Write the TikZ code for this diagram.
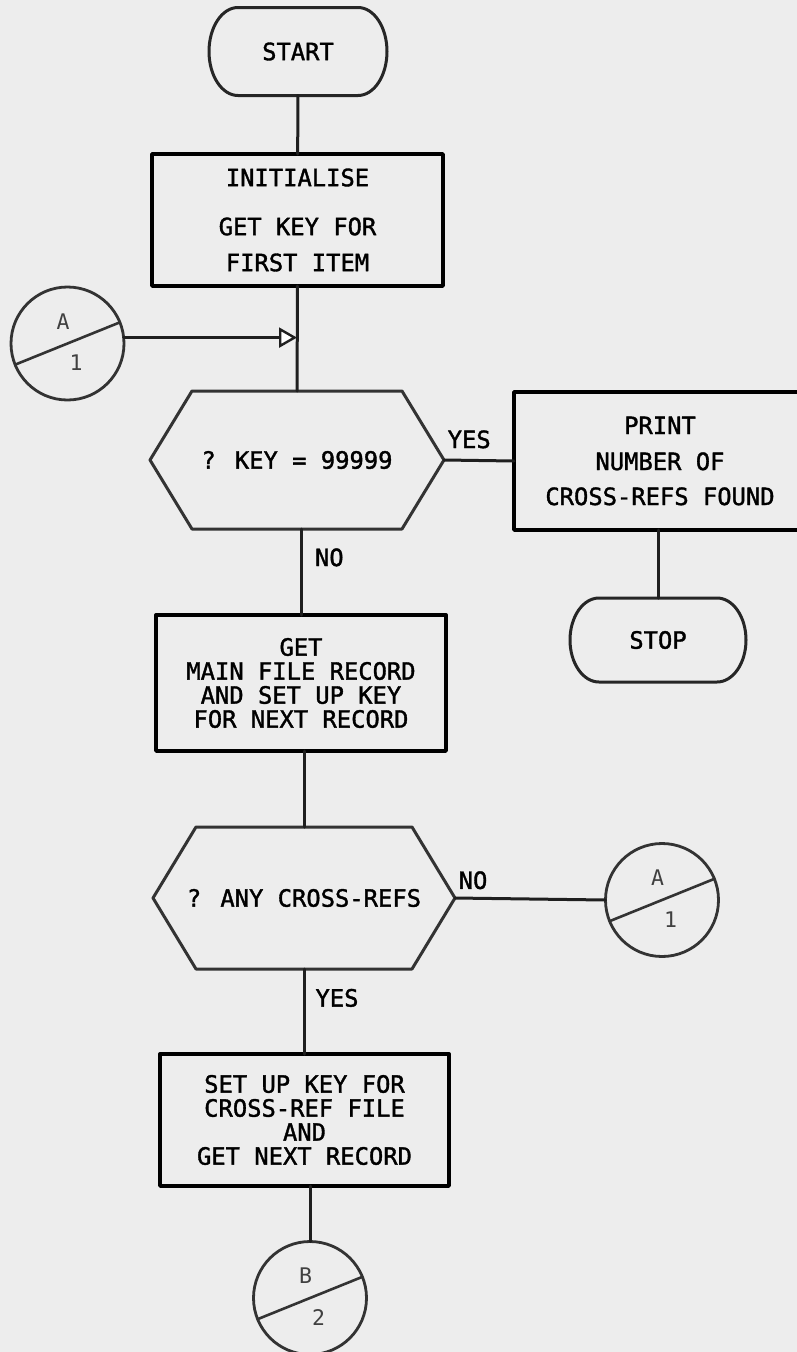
\documentclass[tikz,border=0pt]{standalone}
\usepackage{fontspec}
\newfontfamily\flowfont{DejaVu Sans Mono}[FakeBold=1.5]
\newfontfamily\jointfont{DejaVu Sans Mono}
\usetikzlibrary{arrows.meta}
\begin{document}
\begin{tikzpicture}[x=1pt, y=-1pt, line join=round, line cap=round,
	every node/.style={font=\flowfont\fontsize{23.8}{24}\selectfont, align=center, outer sep=0pt},
	process/.style={draw=black, line width=3.4pt, inner sep=0pt},
	terminal/.style={inner sep=0pt, minimum width=#1, minimum height=88pt},
	decision/.style={inner sep=0pt, minimum height=#1},
	hexline/.style={draw=black!80, line width=3pt},
	joint/.style={circle, draw=black!80, line width=2.8pt, minimum size=113pt, inner sep=0pt},
	jtext/.style={font=\jointfont\fontsize{21.5}{21}\selectfont, text=black!75, inner sep=0pt},
	flow/.style={draw=black!88, line width=3pt},
	lbl/.style={inner sep=2pt}]
	\clip (0,0) rectangle (797,1352);
	\fill[black!7] (0,0) rectangle (797,1352);
	% boxes
	\node[terminal=120pt] (start) at (298,51.5) {START};
	\node[process, minimum width=291pt, minimum height=132pt] (init) at (297.5,220)
		{INITIALISE\\[25pt]GET KEY FOR\\[12pt]FIRST ITEM};
	\node[decision=138pt, minimum width=294pt] (key) at (297,460) {? KEY = 99999};
	\node[process, minimum width=292pt, minimum height=138pt] (print) at (660,461)
		{PRINT\\[12pt]NUMBER OF\\[11pt]CROSS-REFS FOUND};
	\node[terminal=118pt, minimum height=84pt] (stop) at (658,640) {STOP};
	\node[process, minimum width=290pt, minimum height=136pt] (getrec) at (301,683)
		{GET\\MAIN FILE RECORD\\AND SET UP KEY\\FOR NEXT RECORD};
	\node[decision=142pt, minimum width=302pt] (anyref) at (304,898) {? ANY CROSS-REFS};
	\node[process, minimum width=289pt, minimum height=132pt] (setkey) at (304.5,1120)
		{SET UP KEY FOR\\CROSS-REF FILE\\AND\\GET NEXT RECORD};
	\node[joint] (joinA) at (67.5,343.5) {};
	\node[joint] (joinAr) at (662,900) {};
	\node[joint] (joinB) at (310,1298) {};
	% terminal outlines
	\foreach \t/\r in {start/44,stop/42}
	\draw[hexline, draw=black!85] (\t.north west) -- (\t.north east)
		arc[start angle=90, end angle=-90, x radius=29pt, y radius=\r pt] -- (\t.south west)
		arc[start angle=270, end angle=90, x radius=29pt, y radius=\r pt] -- cycle;
	% decision outlines
	\foreach \d/\w in {key/42,anyref/43}
	\draw[hexline] ([xshift=\w]\d.north west) -- ([xshift=-\w]\d.north east) -- (\d.east)
		-- ([xshift=-\w]\d.south east) -- ([xshift=\w]\d.south west) -- (\d.west) -- cycle;
	% connectors
	\foreach \c/\t/\b in {joinA/A/1,joinAr/A/1,joinB/B/2}{
		\draw[hexline, line width=2.6pt] (\c.202) -- (\c.22);
		\node[jtext] (\c-top) at ([shift={(-4.5,-22)}]\c.center) {\t};
		\node[jtext] (\c-bot) at ([shift={(8.5,19.5)}]\c.center) {\b};
	}
	% flow lines
	\draw[flow] (start) -- (init);
	\draw[flow] (init) -- (key);
	\draw[flow, -{Triangle[fill=white, length=18pt, width=20pt, line width=2.4pt]}]
		(joinA.6) -- (joinA.6 -| key.north);
	\draw[flow] (key.east) -- node[lbl, above=10pt, pos=.36] (yes1) {YES} (print.west);
	\draw[flow] (print.south -| stop.north) -- (stop.north);
	\draw[flow] (getrec.north |- key.south) -- node[lbl, right=12pt, pos=.33] (no1) {NO} (getrec.north);
	\draw[flow] (anyref.north |- getrec.south) -- (anyref.north);
	\draw[flow] (anyref.east) -- node[lbl, above=7pt, pos=.12] (no2) {NO} (joinAr.west);
	\draw[flow] (setkey.north |- anyref.south) -- node[lbl, right=9pt, pos=.34] (yes2) {YES} (setkey.north);
	\draw[flow] (joinB.north |- setkey.south) -- (joinB.north);
\end{tikzpicture}
\end{document}
